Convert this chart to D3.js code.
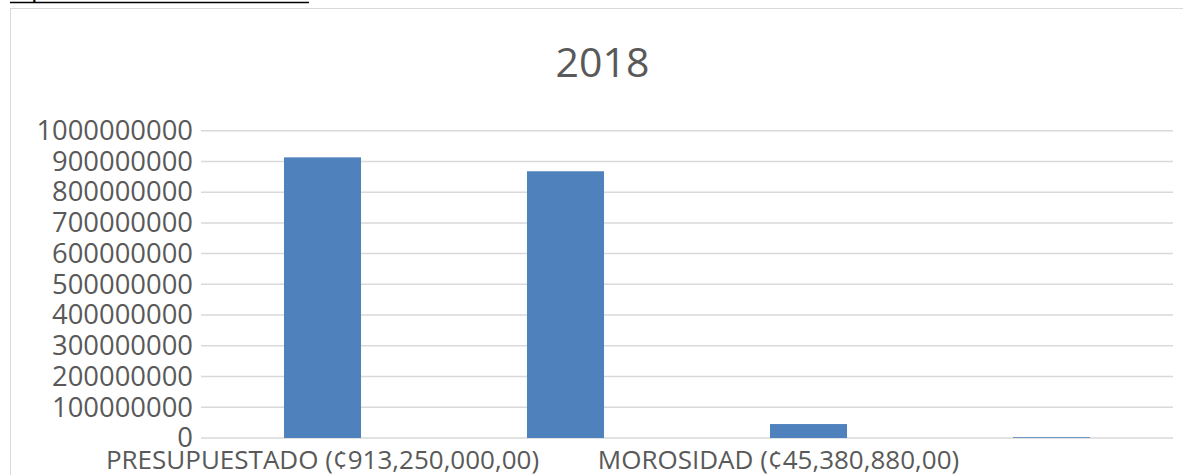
<!DOCTYPE html>
<html>
<head>
<meta charset="utf-8">
<script src="https://cdn.jsdelivr.net/npm/d3@7"></script>
<style>
  body { margin: 0; background: #fff; }
  text { font-family: 'Open Sans', 'Noto Sans', sans-serif; fill: #595959; }
</style>
</head>
<body>
<div id="chart"></div>
<script>
// data
const categories = [
  'PRESUPUESTADO (¢913,250,000,00)',
  'RECAUDADO',
  'MOROSIDAD (¢45,380,880,00)',
  'OTROS'
]
const values = [913250000, 868000000, 45380880, 2500000]
const shownLabels = [0, 2]
const yTicks = [0, 100000000, 200000000, 300000000, 400000000, 500000000,
  600000000, 700000000, 800000000, 900000000, 1000000000]
const title = '2018'

const W = 1183
const H = 475
const margin = { top: 130.7, left: 201, right: 10, bottom: 37 }
const width = W - margin.left - margin.right
const height = H - margin.top - margin.bottom

const root = d3.select('#chart')
  .append('svg')
  .attr('width', W)
  .attr('height', H)

// heading cut off at the top of the page
root.append('text')
  .attr('x', 10)
  .attr('y', -4)
  .attr('font-size', 26)
  .style('fill', '#000')
  .text('Tipos de morosidad')
root.append('line')
  .attr('x1', 10).attr('x2', 309)
  .attr('y1', 2.5).attr('y2', 2.5)
  .attr('stroke', '#000')
  .attr('stroke-width', 1.5)

// chart border
root.append('rect')
  .attr('x', 10.5)
  .attr('y', 8.5)
  .attr('width', 1200)
  .attr('height', 500)
  .attr('fill', 'none')
  .attr('stroke', '#d9d9d9')

root.append('text')
  .attr('x', 602.5)
  .attr('y', 77)
  .attr('text-anchor', 'middle')
  .attr('font-size', 41)
  .text(title)

const svg = root.append('g')
  .attr('transform', 'translate(' + margin.left + ',' + margin.top + ')')

const x = d3.scaleBand()
  .domain(categories)
  .range([0, width])
  .paddingInner(0.683)
  .paddingOuter(0.3415)

const y = d3.scaleLinear()
  .domain([0, 1000000000])
  .range([height, 0])

// gridlines
svg.selectAll('.grid')
  .data(yTicks)
  .enter()
  .append('line')
  .attr('class', 'grid')
  .attr('x1', 0)
  .attr('x2', width)
  .attr('y1', d => y(d))
  .attr('y2', d => y(d))
  .attr('stroke', '#d9d9d9')
  .attr('stroke-width', 1.5)

// bars
svg.selectAll('rect')
  .data(values)
  .enter()
  .append('rect')
  .attr('x', (d, i) => x(categories[i]))
  .attr('y', d => y(d))
  .attr('width', x.bandwidth())
  .attr('height', d => height - y(d))
  .attr('fill', '#4f81bd')

// y axis
const yAxis = d3.axisLeft(y).tickValues(yTicks).tickSize(0).tickFormat(d3.format('d'))
svg.append('g')
  .attr('class', 'axis y-axis')
  .call(yAxis)
  .call(g => g.select('.domain').remove())
  .call(g => g.selectAll('.tick text')
    .attr('x', -8)
    .attr('font-size', 27.4)
    .attr('font-family', null)
    .style('fill', '#595959'))

// x labels (only every other one fits)
svg.selectAll('.xlabel')
  .data(shownLabels)
  .enter()
  .append('text')
  .attr('class', 'xlabel')
  .attr('x', i => x(categories[i]) + x.bandwidth() / 2)
  .attr('dx', i => (i === 2 ? -30 : 0))
  .attr('y', height + 31)
  .attr('text-anchor', 'middle')
  .attr('font-size', 26)
  .text(i => categories[i])
</script>
</body>
</html>
